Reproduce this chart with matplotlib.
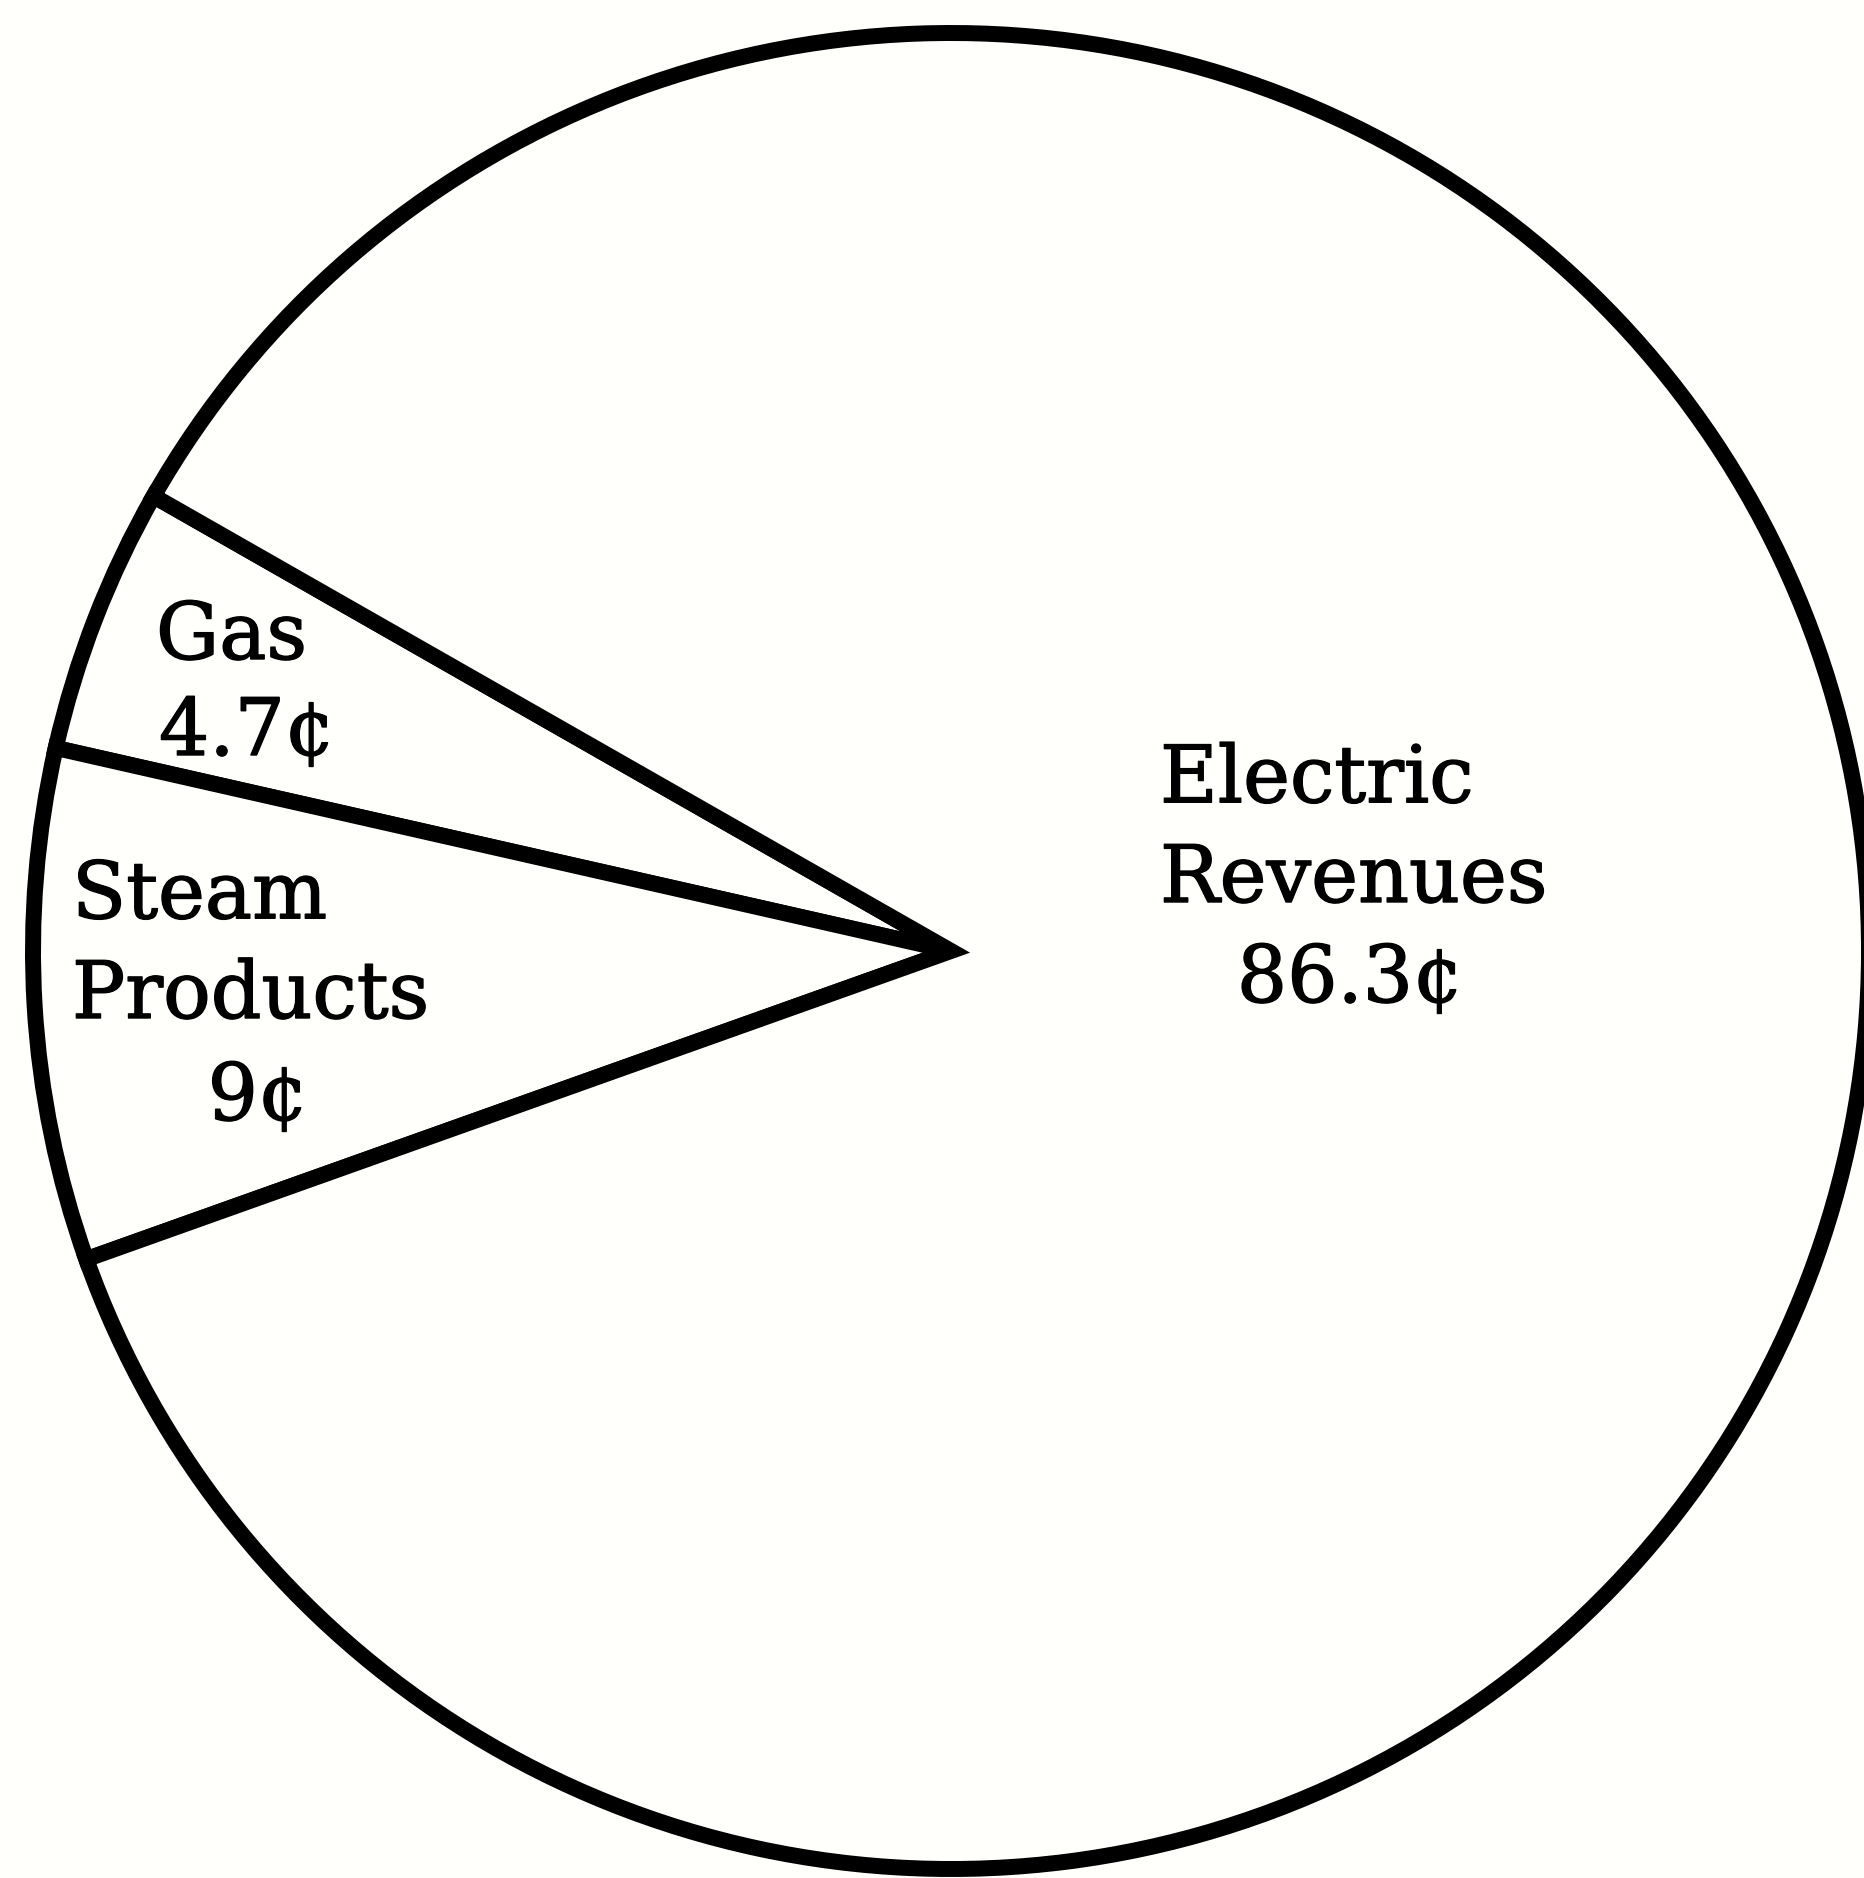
import matplotlib
matplotlib.use("Agg")
from matplotlib import pyplot as plt
import matplotlib.patheffects as pe

# cents of each revenue dollar
names = ["Gas", "Steam\nProducts", "Electric\nRevenues"]
cents = [4.7, 9, 86.3]

W, H = 1865, 1878
paper = "#fffffc"
fig = plt.figure(figsize=(W / 100, H / 100), dpi=100, facecolor=paper)
ax = fig.add_axes([0, 0, 1, 1])
ax.set_facecolor(paper)

# unit pie; axis limits put its centre where the scan has it (pixels)
cx, cy, r = 951, 951, 918
ax.pie(cents, startangle=150.3, counterclock=True, radius=1,
       colors=[paper] * len(cents),
       wedgeprops=dict(edgecolor="black", linewidth=11.5, joinstyle="miter"))
ax.set_aspect("auto")
ax.set_xlim(-cx / r, (W - cx) / r)
ax.set_ylim(-(H - cy) / r, cy / r)
ax.axis("off")

font = dict(family="DejaVu Serif", fontsize=57, color="black",
            linespacing=1.40, va="baseline", transform=ax.transAxes,
            path_effects=[pe.withStroke(linewidth=1.0, foreground="black")])

# (x, baseline of last line) in pixels from top-left, for name and value
name_pos = [(156, 659, "left"), (72, 1018, "left"), (1160, 902, "left")]
value_pos = [(159, 755, "left"), (258, 1120, "center"), (1350, 1002, "center")]

for name, v, (nx, ny, nha), (vx, vy, vha) in zip(names, cents, name_pos, value_pos):
    ax.text(nx / W, 1 - ny / H, name, ha=nha, multialignment=nha, **font)
    ax.text(vx / W, 1 - vy / H, f"{v:g}¢", ha=vha, **font)

plt.savefig("out.png", dpi=100, facecolor=fig.get_facecolor())
